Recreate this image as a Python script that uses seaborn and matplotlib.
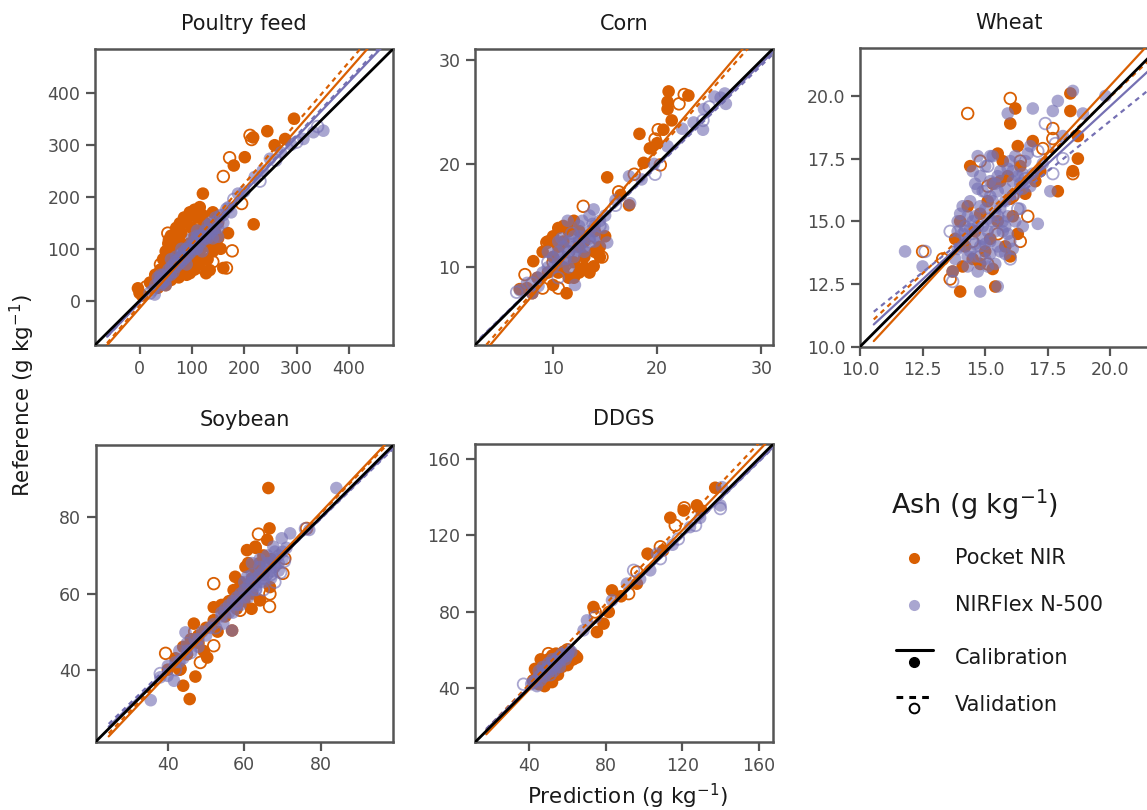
import numpy as np
import pandas as pd
import matplotlib
matplotlib.use("Agg")
import matplotlib.pyplot as plt
from matplotlib.lines import Line2D
import seaborn as sns

# ---------------- data (prediction, reference) ----------------
PANELS = ["Poultry feed", "Corn", "Wheat", "Soybean", "DDGS"]
INSTRUMENTS = ["Pocket NIR", "NIRFlex N-500"]
SETS = ["Calibration", "Validation"]

poultry_pocket_cal = [
    (295, 350), (244, 326), (278, 311), (258, 299), (217, 314), (201, 276), (180, 260),
    (121, 206), (218, 147), (169, 130), (160, 63), (134, 59), (0, 15), (-3, 24), (5, 10),
    (20, 35), (30, 50), (40, 60), (45, 80), (50, 95), (55, 110), (60, 125), (64, 123),
    (70, 140), (77, 149), (85, 160), (90, 150), (96, 170), (105, 175), (115, 180),
    (120, 165), (110, 160), (100, 140), (80, 130), (70, 110), (60, 90), (50, 70),
    (35, 25), (50, 30), (60, 40), (75, 45), (90, 50), (96, 53), (105, 60), (115, 70),
    (115, 85), (127, 53), (130, 80), (140, 95), (145, 110), (150, 120), (155, 100),
    (135, 120), (125, 105), (100, 80), (85, 70), (70, 60), (40, 40), (65, 65), (90, 95),
    (110, 115), (130, 135), (150, 150), (80, 85), (95, 110), (30, 30), (45, 55), (55, 45),
    (65, 75), (75, 65), (85, 100), (95, 80), (105, 125), (115, 95), (125, 150), (135, 140),
    (145, 130), (120, 140), (140, 170), (60, 100), (75, 120),
]
poultry_pocket_val = [
    (211, 318), (214, 310), (172, 275), (160, 239), (195, 187), (177, 96), (54, 130),
    (57, 117), (99, 168), (166, 63), (13, 27), (121, 63), (85, 60), (40, 70), (110, 130),
    (140, 75), (75, 100),
]
poultry_flex_cal = [
    (351, 327), (332, 324), (313, 311), (249, 273), (220, 238), (188, 206), (166, 177),
    (150, 123), (29, 12), (25, 20), (30, 30), (38, 35), (40, 30), (45, 50), (50, 40),
    (55, 60), (60, 50), (65, 70), (70, 65), (75, 80), (80, 75), (85, 95), (90, 85),
    (95, 105), (100, 95), (105, 115), (110, 100), (115, 125), (120, 115), (125, 135),
    (130, 120), (135, 150), (140, 135), (145, 160), (155, 165), (160, 150), (170, 180),
    (175, 170), (60, 80), (80, 100), (100, 120), (120, 95), (90, 70), (50, 30), (200, 210),
    (235, 250), (270, 285), (290, 300), (110, 135), (140, 120), (35, 45), (45, 35), (55, 50),
    (65, 55), (75, 70), (85, 80), (95, 90), (105, 100), (115, 110), (125, 120), (135, 130),
    (145, 140), (40, 50), (60, 65), (70, 85), (90, 100), (110, 125), (130, 145), (150, 140),
    (160, 165), (100, 105), (80, 90),
]
poultry_flex_val = [
    (40, 40), (70, 75), (95, 100), (125, 125), (150, 155), (180, 195), (230, 230),
    (260, 270), (300, 305), (340, 335), (20, 15),
]

corn_pocket_cal = [
    (21.1, 27.0), (21.0, 26.0), (21.0, 25.3), (21.4, 24.2), (23.0, 26.6), (20.6, 23.3),
    (18.3, 22.9), (19.3, 21.5), (18.7, 20.1), (15.2, 18.7), (17.3, 16.0), (8.1, 10.6),
    (11.3, 7.5), (13.9, 10.1), (14.5, 11.0), (10.0, 8.3), (10.5, 13.8), (6.8, 7.9),
    (20.0, 22.0), (16.5, 17.0), (9.5, 12.5), (10.0, 13.0), (10.5, 12.0), (11.0, 14.0),
    (11.5, 13.5), (9.0, 11.5), (10.0, 11.0), (11.0, 12.5), (12.0, 14.5), (12.5, 13.5),
    (12.0, 9.0), (12.5, 9.5), (13.0, 10.0), (13.5, 9.5), (14.0, 11.5), (14.5, 12.0),
    (13.0, 11.0), (12.0, 10.5), (11.5, 9.0), (11.0, 10.0), (10.5, 9.5), (15.0, 13.0),
    (14.0, 13.5), (13.0, 12.5), (12.5, 12.0), (8.5, 9.0), (9.5, 9.5), (7.5, 8.0), (8.0, 7.5),
]
corn_pocket_val = [
    (22.6, 26.7), (22.1, 25.8), (20.1, 23.3), (19.8, 22.4), (20.3, 19.9), (16.3, 17.3),
    (12.9, 15.9), (7.3, 9.3), (14.7, 11.0), (10.7, 13.0), (9.4, 12.4), (17.8, 19.0),
    (11.5, 11.5), (13.5, 12.0), (10.0, 10.5), (9.0, 8.0), (12.0, 9.5), (10.5, 8.0),
]
corn_flex_cal = [
    (26.1, 26.4), (26.6, 25.8), (24.5, 25.3), (22.4, 23.4), (24.4, 23.3), (21.0, 21.7),
    (19.7, 20.0), (17.3, 18.8), (17.4, 16.2), (12.1, 8.3), (15.2, 12.4), (6.8, 7.8),
    (8.6, 8.2), (13.9, 15.6), (11.4, 14.5), (7.5, 8.5), (8.0, 7.5), (8.5, 9.0), (9.0, 9.5),
    (9.5, 10.0), (10.0, 10.0), (10.0, 11.0), (10.5, 10.5), (11.0, 11.0), (11.0, 12.0),
    (11.5, 11.5), (12.0, 12.0), (12.0, 13.0), (12.5, 12.5), (13.0, 13.0), (13.0, 12.0),
    (13.5, 13.5), (14.0, 14.0), (14.0, 13.0), (14.5, 14.5), (15.0, 15.0), (9.5, 11.5),
    (10.5, 12.5), (12.0, 11.0), (13.0, 11.5), (14.0, 12.5), (11.5, 10.0), (12.5, 14.0),
    (13.5, 15.0), (16.0, 16.5), (18.5, 18.5), (23.5, 24.0), (25.5, 26.5), (26.5, 26.8),
    (10.5, 11.5), (11.5, 12.5), (12.5, 13.0), (13.5, 12.8), (12.2, 11.6), (11.2, 10.8),
    (13.8, 14.2), (10.8, 12.8), (12.8, 14.5), (14.8, 13.8),
]
corn_flex_val = [
    (24.4, 24.2), (19.8, 19.0), (6.5, 7.6), (10.5, 9.0), (11.8, 13.3), (12.5, 12.0),
    (13.5, 12.5), (9.5, 10.5), (8.0, 8.5), (14.5, 14.0), (25.0, 25.5), (16.0, 16.0),
]

wheat_pocket_cal = [
    (18.4, 20.1), (18.4, 19.4), (16.2, 19.5), (16.0, 18.9), (16.9, 18.2), (16.3, 18.0),
    (18.7, 18.4), (18.7, 17.5), (18.5, 17.0), (17.9, 16.2), (14.4, 17.2), (15.5, 17.7),
    (15.6, 16.6), (15.3, 16.5), (16.1, 15.2), (14.0, 12.2), (15.4, 12.4), (14.3, 15.6),
    (13.7, 13.0), (14.8, 13.3), (16.3, 14.5), (17.0, 16.6), (16.0, 15.9), (14.2, 14.0),
    (14.6, 14.6), (15.0, 13.8), (15.2, 14.3), (15.5, 15.0), (14.0, 15.0), (14.5, 13.5),
    (15.8, 14.0), (16.0, 13.6), (14.8, 15.3), (13.8, 14.3), (15.9, 16.8), (16.4, 17.2),
    (15.7, 17.4), (17.2, 17.0), (16.6, 16.1), (15.1, 15.8), (14.1, 13.2), (15.3, 13.1),
]
wheat_pocket_val = [
    (16.0, 19.9), (14.3, 19.3), (17.7, 18.7), (17.7, 18.3), (17.3, 17.9), (18.5, 16.9),
    (16.7, 15.2), (16.4, 14.2), (12.5, 13.8), (13.3, 13.5), (13.6, 12.7), (14.8, 17.4),
    (15.1, 16.4), (16.4, 17.4), (15.1, 13.3), (14.5, 14.2), (15.5, 14.5), (16.1, 16.0),
]
wheat_flex_cal = [
    (18.5, 20.2), (17.9, 19.8), (19.8, 20.0), (18.9, 19.3), (17.7, 19.4), (16.9, 19.5),
    (15.9, 19.3), (18.1, 18.4), (16.8, 18.0), (17.6, 16.2), (17.1, 14.9), (11.8, 13.8),
    (12.5, 13.2), (14.8, 12.2), (15.5, 12.4), (13.7, 13.0), (14.7, 17.6), (14.6, 16.5),
    (15.3, 17.6), (16.1, 17.0), (16.5, 16.3), (15.2, 16.0), (13.8, 13.5), (14.0, 14.0),
    (14.2, 14.8), (14.0, 15.3), (14.4, 13.8), (14.5, 14.5), (14.6, 15.2), (14.8, 14.0),
    (14.9, 14.8), (15.0, 15.5), (15.0, 13.5), (15.2, 14.2), (15.3, 15.0), (15.5, 14.0),
    (15.6, 15.5), (15.7, 14.6), (15.9, 15.2), (16.0, 14.2), (16.2, 15.0), (14.3, 13.2),
    (14.7, 13.0), (15.4, 13.3), (13.9, 14.6), (14.1, 15.6), (15.8, 13.7), (16.5, 14.8),
    (14.4, 15.8), (14.8, 16.8), (15.0, 17.2), (15.4, 16.5), (15.6, 17.0), (15.8, 16.3),
    (16.0, 17.4), (16.3, 16.8), (16.6, 17.4), (16.9, 16.9), (15.2, 17.6), (14.5, 17.0),
    (16.2, 16.1), (16.8, 16.4), (17.3, 17.3), (14.2, 14.3), (14.5, 15.0), (14.8, 15.6),
    (15.1, 14.6), (15.4, 14.6), (15.7, 15.0), (14.6, 13.6), (15.1, 13.2), (15.9, 14.5),
    (14.9, 14.3), (15.3, 15.8), (13.9, 13.9), (14.4, 14.7), (15.8, 15.8), (16.1, 13.9),
    (16.4, 15.5), (16.5, 16.9), (16.2, 17.6), (15.5, 16.2), (14.9, 16.2), (16.7, 17.7),
    (14.1, 14.5), (14.3, 15.2), (14.6, 14.1), (14.7, 14.8), (15.0, 14.1), (15.2, 13.7),
    (15.4, 15.3), (15.6, 13.8), (15.8, 14.8), (14.3, 13.6), (13.9, 15.0), (15.1, 15.1),
    (15.5, 16.8), (15.9, 17.1), (16.4, 16.5), (15.2, 16.6), (14.7, 16.3), (16.1, 16.6),
]
wheat_flex_val = [
    (17.4, 18.9), (17.8, 18.1), (18.1, 17.5), (17.7, 16.9), (17.1, 17.8), (16.0, 13.5),
    (13.6, 14.6), (12.6, 13.8), (13.7, 12.6), (15.1, 17.2), (14.2, 14.6), (15.5, 15.2),
    (14.8, 13.6), (16.3, 15.5), (15.0, 16.2), (16.6, 16.7),
]

soy_pocket_cal = [
    (66.3, 87.7), (66.6, 77.1), (66.0, 74.1), (60.7, 71.4), (62.9, 72.3), (60.3, 67.0),
    (57.6, 64.4), (57.2, 60.9), (56.8, 50.3), (52.0, 56.4), (46.8, 52.1), (50.3, 43.2),
    (47.2, 38.2), (44.0, 35.8), (45.7, 32.3), (64.1, 58.2), (66.7, 61.7), (61.9, 56.0),
    (54.5, 55.6), (49.4, 44.9), (40, 40), (42, 43), (44, 46), (46, 48), (48, 47), (50, 51),
    (52, 53), (54, 57), (56, 58), (58, 60), (60, 62), (62, 64), (63, 66), (64, 68), (65, 70),
    (62, 60), (60, 58), (58, 56), (55, 54), (53, 50), (48, 49), (45, 44), (43, 40), (65, 65),
    (67, 69), (63, 72), (61, 68), (59, 63),
]
soy_pocket_val = [
    (63.7, 75.6), (52.0, 62.6), (39.4, 44.3), (52.0, 46.3), (48.5, 41.9), (66.6, 56.6),
    (66.7, 59.9), (76.3, 77.1), (70.6, 69.2), (70.1, 65.3), (43.2, 40.2), (58.9, 55.6),
    (55, 57), (61, 61), (47, 50),
]
soy_flex_cal = [
    (84.1, 87.7), (72.0, 75.8), (69.8, 74.5), (77.0, 76.7), (67.6, 72.3), (35.5, 32.0),
    (41.6, 37.1), (39.9, 38.4), (56.8, 50.3), (44.6, 49.8), (54.5, 52.1), (60.7, 64.4),
    (38, 38), (40, 41), (42, 42), (43, 45), (44, 43), (45, 47), (46, 45), (47, 48), (48, 46),
    (49, 50), (50, 49), (52, 52), (54, 54), (55, 56), (56, 55), (57, 58), (58, 57), (59, 60),
    (60, 59), (61, 62), (62, 61), (63, 64), (64, 63), (65, 66), (66, 65), (67, 68), (68, 67),
    (69, 70), (70, 69), (64, 67), (62, 65), (66, 68), (68, 71), (60, 63), (63, 61), (65, 63),
    (67, 64), (69, 66), (71, 72), (66, 70), (64, 69), (62, 68), (57, 55), (59, 57), (61, 59),
    (63, 62), (65, 64), (67, 66), (69, 68), (70, 71), (68, 69), (66, 67), (64, 65), (62, 63),
    (60, 61), (58, 59), (56, 57), (54, 55), (51, 51), (48, 48), (45, 45), (43, 42),
]
soy_flex_val = [
    (70.5, 68.5), (69.5, 65.5), (76.0, 77.0), (42.0, 40.0), (46.0, 44.5), (52.5, 51.0),
    (58.0, 57.5), (63.0, 61.0), (67.0, 65.0), (38.0, 39.0), (68, 63), (65, 61),
]

ddgs_pocket_cal = [
    (137.3, 144.8), (127.7, 135.6), (113.8, 129.1), (120.8, 132.9), (101.9, 110.3),
    (96.3, 94.6), (83.3, 91.1), (81.6, 79.8), (73.6, 82.4), (78.9, 73.7), (75.4, 69.3),
    (61.5, 54.5), (51.9, 43.1), (130, 133), (110, 112), (88, 88), (42, 44), (44, 48),
    (45, 42), (46, 50), (47, 45), (48, 53), (49, 47), (50, 55), (51, 50), (52, 57), (53, 52),
    (54, 58), (55, 53), (56, 56), (57, 51), (58, 59), (59, 54), (60, 57), (62, 58), (63, 55),
    (64, 57), (65, 56), (48, 41), (50, 44), (55, 47), (43, 50), (46, 55), (52, 45), (60, 52),
]
ddgs_pocket_val = [
    (121.1, 134.3), (116.4, 125.1), (108.6, 113.9), (96.3, 100.7), (92.0, 89.4),
    (74.5, 79.8), (50.0, 58.0), (48.5, 52.6), (45, 45), (56, 52), (60, 60), (53, 49),
]
ddgs_flex_cal = [
    (140.8, 145.1), (140.0, 135.6), (129.4, 129.1), (124.1, 124.2), (106.8, 110.3),
    (103.3, 101.6), (91.1, 94.6), (83.3, 85.9), (70.2, 75.4), (68.4, 70.2), (115, 115),
    (98, 97), (41, 42), (43, 44), (44, 41), (45, 46), (46, 44), (47, 48), (48, 46), (49, 50),
    (50, 48), (51, 52), (52, 50), (53, 54), (54, 52), (55, 56), (56, 54), (57, 58), (58, 56),
    (59, 59), (60, 57), (61, 60), (62, 59), (47, 51), (50, 53), (53, 49), (56, 51), (59, 55),
    (45, 49), (52, 55),
]
ddgs_flex_val = [
    (140.0, 133.9), (127.0, 125.1), (108.6, 107.7), (94.6, 101.6), (37, 42), (74.5, 77.1),
    (42, 43), (48, 49), (55, 55), (60, 58), (51, 47), (118, 118),
]

POINTS = {
    "Poultry feed": [poultry_pocket_cal, poultry_pocket_val, poultry_flex_cal, poultry_flex_val],
    "Corn": [corn_pocket_cal, corn_pocket_val, corn_flex_cal, corn_flex_val],
    "Wheat": [wheat_pocket_cal, wheat_pocket_val, wheat_flex_cal, wheat_flex_val],
    "Soybean": [soy_pocket_cal, soy_pocket_val, soy_flex_cal, soy_flex_val],
    "DDGS": [ddgs_pocket_cal, ddgs_pocket_val, ddgs_flex_cal, ddgs_flex_val],
}

# fitted regression lines: (slope, intercept) for
# Pocket cal, Pocket val, NIRFlex cal, NIRFlex val
FITS = {
    "Poultry feed": [(1.146, -14.4), (1.17, -9.0), (1.06, -3.3), (1.07, -3.0)],
    "Corn": [(1.18, -2.17), (1.139, -1.56), (0.985, 0.15), (0.975, 0.25)],
    "Wheat": [(1.079, -1.16), (0.94, 1.17), (0.922, 1.16), (0.806, 2.89)],
    "Soybean": [(1.059, -3.45), (1.04, -2.2), (0.985, 0.9), (0.97, 2.0)],
    "DDGS": [(1.041, -2.44), (1.05, 0.0), (0.985, 1.0), (0.98, 1.5)],
}
FIT_START = {"Poultry feed": -62, "Corn": 3.0, "Wheat": 10.55, "Soybean": 24.5, "DDGS": 17.5}

LIMITS = {
    "Poultry feed": (-85, 484),
    "Corn": (2.5, 31.1),
    "Wheat": (10.0, 21.9),
    "Soybean": (21.1, 99.0),
    "DDGS": (11.6, 167.7),
}
TICKS = {
    "Poultry feed": [0, 100, 200, 300, 400],
    "Corn": [10, 20, 30],
    "Wheat": [10.0, 12.5, 15.0, 17.5, 20.0],
    "Soybean": [40, 60, 80],
    "DDGS": [40, 80, 120, 160],
}

# ---------------- build long table ----------------
rows = []
keys = [(i, s) for i in INSTRUMENTS for s in SETS]
for p in PANELS:
    for (inst, st), pts in zip(keys, POINTS[p]):
        for x, y in pts:
            rows.append(dict(panel=p, instrument=inst, set=st, pred=x, ref=y))
df = pd.DataFrame(rows)

# ---------------- style ----------------
sns.set_theme(style="ticks")
plt.rcParams["font.family"] = ["DejaVu Sans"]
SPINE = "#555555"
plt.rcParams.update({
    "axes.edgecolor": SPINE,
    "axes.linewidth": 1.8,
    "xtick.color": SPINE,
    "ytick.color": SPINE,
    "xtick.labelcolor": "#4d4d4d",
    "ytick.labelcolor": "#4d4d4d",
})

COLORS = {"Pocket NIR": "#d95f02", "NIRFlex N-500": "#7570b3"}
ALPHA = {"Pocket NIR": 1.0, "NIRFlex N-500": 0.62}

W, H = 1147, 810
fig = plt.figure(figsize=(W / 100, H / 100), dpi=100)

AX_BOX = {  # left, top, right, bottom in pixels
    "Poultry feed": (95, 49, 393, 345),
    "Corn": (475, 49, 772.7, 345),
    "Wheat": (860, 48.3, 1158, 346.7),
    "Soybean": (95.7, 445, 393.3, 741.7),
    "DDGS": (475, 444, 773.3, 742.3),
}

for p in PANELS:
    l, t, r, b = AX_BOX[p]
    ax = fig.add_axes([l / W, 1 - b / H, (r - l) / W, (b - t) / H])
    sub = df[df.panel == p]
    for inst in INSTRUMENTS:
        c, a = COLORS[inst], ALPHA[inst]
        d = sub[(sub.instrument == inst) & (sub.set == "Calibration")]
        sns.scatterplot(data=d, x="pred", y="ref", ax=ax, color=c, alpha=a, s=82,
                        edgecolor="none", linewidth=0, legend=False, zorder=2)
        d = sub[(sub.instrument == inst) & (sub.set == "Validation")]
        sns.scatterplot(data=d, x="pred", y="ref", ax=ax, color=c, facecolor="none",
                        edgecolor=c, alpha=a, s=70, linewidth=1.3, legend=False, zorder=2)
    lo, hi = LIMITS[p]
    for (inst, st), (m, k) in zip(keys, FITS[p]):
        xs = np.array([FIT_START[p], hi])
        ax.plot(xs, m * xs + k, color=COLORS[inst], lw=1.6,
                ls="-" if st == "Calibration" else (0, (2.2, 2.0)), zorder=3)
    ax.plot([lo, hi], [lo, hi], color="black", lw=2.0, zorder=4)
    ax.set_xlim(lo, hi)
    ax.set_ylim(lo, hi)
    ax.set_xticks(TICKS[p])
    ax.set_yticks(TICKS[p])
    if p == "Wheat":
        ax.set_xticklabels([f"{v:.1f}" for v in TICKS[p]])
        ax.set_yticklabels([f"{v:.1f}" for v in TICKS[p]])
    ax.set_xlabel("")
    ax.set_ylabel("")
    ax.tick_params(length=6.5, width=1.6, labelsize=12.5, pad=4)
    ax.set_title(p, fontsize=15, pad=14, color="#1a1a1a")
    for sp in ax.spines.values():
        sp.set_visible(True)

fig.text(22 / W, 1 - 395 / H, "Reference (g kg$^{-1}$)", rotation=90,
         ha="center", va="center", fontsize=15.5, color="#1a1a1a")
fig.text(627 / W, 1 - 796 / H, "Prediction (g kg$^{-1}$)",
         ha="center", va="center", fontsize=15.5, color="#1a1a1a")

# ---------------- legend (drawn manually) ----------------
def fx(x):
    return x / W

def fy(y):
    return 1 - y / H

fig.text(fx(891), fy(505), "Ash (g kg$^{-1}$)", ha="left", va="center",
         fontsize=19.5, color="#1a1a1a")
leg_rows = [("Pocket NIR", 558), ("NIRFlex N-500", 605)]
for inst, yy in leg_rows:
    fig.add_artist(Line2D([fx(914)], [fy(yy)], marker="o", ms=8, color=COLORS[inst],
                          alpha=ALPHA[inst], mec="none", ls="none",
                          transform=fig.transFigure))
    fig.text(fx(955), fy(yy), inst, ha="left", va="center", fontsize=15, color="#1a1a1a")

fig.add_artist(Line2D([fx(896), fx(933)], [fy(650), fy(650)], color="black", lw=2.2,
                      transform=fig.transFigure))
fig.add_artist(Line2D([fx(914)], [fy(662)], marker="o", ms=7, mfc="black", mec="black",
                      ls="none", transform=fig.transFigure))
fig.text(fx(955), fy(658), "Calibration", ha="left", va="center", fontsize=15, color="#1a1a1a")

fig.add_artist(Line2D([fx(896), fx(933)], [fy(697), fy(697)], color="black", lw=2.2,
                      ls=(0, (2.2, 2.0)), transform=fig.transFigure))
fig.add_artist(Line2D([fx(914)], [fy(708)], marker="o", ms=7, mfc="white", mec="black",
                      mew=1.4, ls="none", transform=fig.transFigure))
fig.text(fx(955), fy(705), "Validation", ha="left", va="center", fontsize=15, color="#1a1a1a")

fig.savefig("out.png", dpi=100)
